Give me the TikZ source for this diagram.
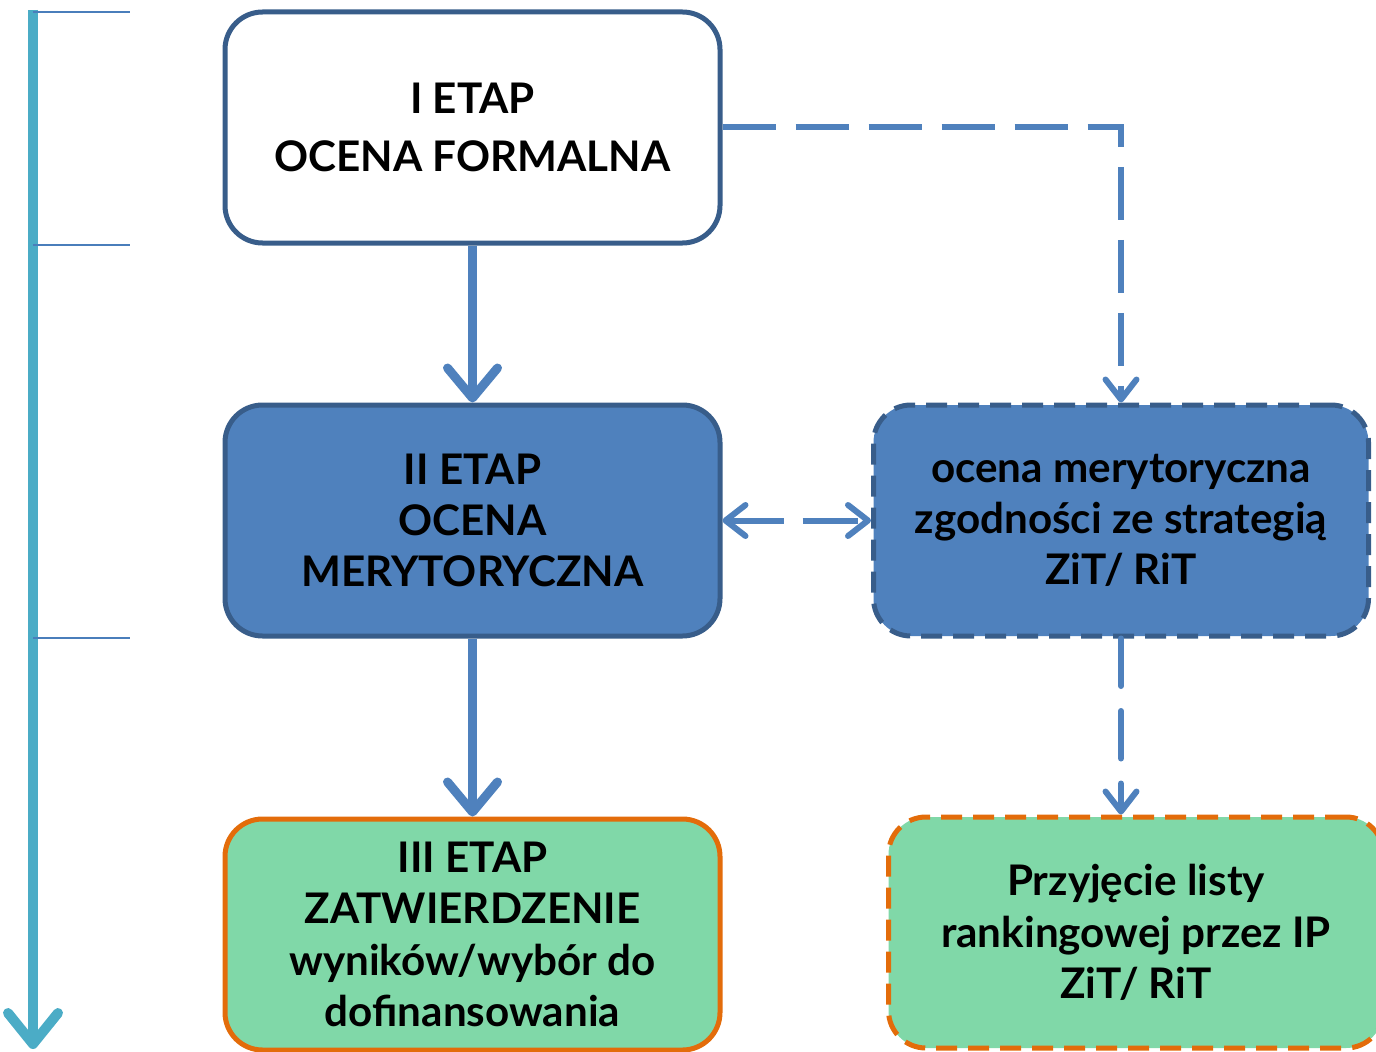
\documentclass[tikz,border=0pt]{standalone}
\usepackage{fontspec}
\setmainfont{Lato}
\usepackage{xcolor}
\usetikzlibrary{arrows.meta,positioning}

\definecolor{boxblue}{HTML}{4F81BD}
\definecolor{edgeblue}{HTML}{385D8A}
\definecolor{axisblue}{HTML}{4BACC6}
\definecolor{tickblue}{HTML}{4A7EBB}
\definecolor{mint}{HTML}{80D8A8}
\definecolor{rust}{HTML}{E36C0A}

\begin{document}
\begin{tikzpicture}[
    stagebox/.style={
        rectangle, rounded corners=0.75cm, line width=0.1cm,
        minimum width=9.9cm, minimum height=4.62cm,
        font=\fontsize{24}{29.2}\selectfont\bfseries, align=center
    },
    formal/.style={stagebox, draw=edgeblue, fill=white},
    merit/.style={stagebox, draw=edgeblue, fill=boxblue},
    approve/.style={stagebox, draw=rust, fill=mint},
    sidebox/.style={dash pattern=on 0.42cm off 0.22cm},
    barb/.tip={Straight Barb[length=0.4cm, width=0.62cm, line cap=round, line join=round]},
    flow/.style={-{Straight Barb[length=0.6cm, width=1.0cm, line cap=round, line join=round]},
        line width=0.18cm, boxblue},
    dflow/.style={-barb, line width=0.12cm, boxblue, dash pattern=on 1.06cm off 0.4cm},
    tick/.style={line width=0.04cm, tickblue}
]
\useasboundingbox (0,0) rectangle (27.52,-21.02);

% time axis on the left
\coordinate (axtop) at (0.66,-0.2);
\coordinate (axend) at (0.66,-20.98);
\draw[line width=0.2cm, axisblue,
    -{Straight Barb[length=0.62cm, width=1.0cm, line cap=round, line join=round]}]
    (axtop) -- (axend);
\draw[tick] (0.66,-0.24) -- (2.6,-0.24);
\draw[tick] (0.66,-4.9) -- (2.6,-4.9);
\draw[tick] (0.66,-12.76) -- (2.6,-12.76);

% stages, top to bottom
\node[formal] (etap1) at (9.45,-2.55) {I ETAP\\[0.12cm]OCENA FORMALNA};
\node[merit] (etap2) at (9.45,-10.41) {II ETAP\\OCENA\\MERYTORYCZNA};
\node[approve] (etap3) at (9.45,-18.69)
    {III ETAP\\ZATWIERDZENIE\\wyników/wybór do\\dofinansowania};

% ZiT/RiT branch
\node[merit, sidebox] (zit1) at (22.42,-10.41)
    {ocena merytoryczna\\zgodności ze strategią\\ZiT/ RiT};
\node[approve, sidebox] (zit2) at (22.72,-18.65)
    {Przyjęcie listy\\rankingowej przez IP\\ZiT/ RiT};

% connectors
\draw[flow] (etap1) -- (etap2);
\draw[flow] (etap2) -- (etap3);
\draw[dflow] (etap1.east) -| (zit1.north);
\draw[dflow, barb-barb, dash pattern=on 1.1cm off 0.38cm] (etap2) -- (zit1);
\draw[dflow, line cap=round, dash pattern=on 0.95cm off 0.5cm] (zit1) -- (zit1 |- zit2.north);
\end{tikzpicture}
\end{document}
